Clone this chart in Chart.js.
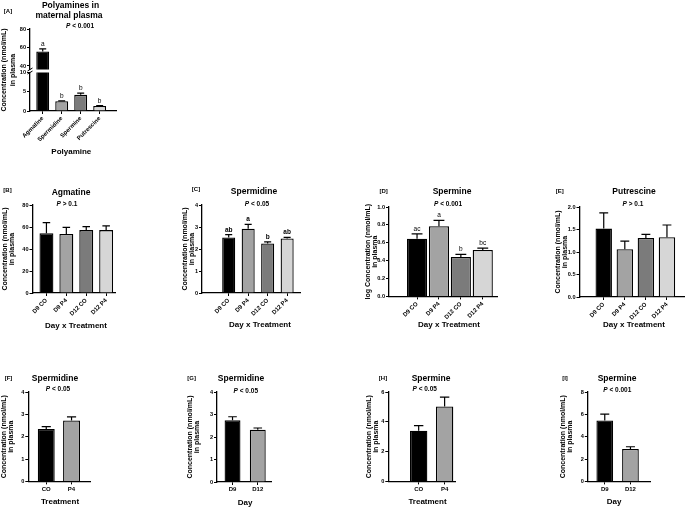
<!DOCTYPE html>
<html>
<head>
<meta charset="utf-8">
<title>Polyamines in maternal plasma</title>
<script src="https://cdn.jsdelivr.net/npm/chart.js@4.4.1/dist/chart.umd.min.js"></script>
<style>
  html, body { margin: 0; padding: 0; background: #fff; }
  body { position: relative; width: 685px; height: 508px; overflow: hidden; font-family: Arial, "Liberation Sans", sans-serif; color: #000; }
  canvas { position: absolute; }
  .txt { position: absolute; white-space: nowrap; font-weight: bold; transform: translate(-50%, -50%); line-height: 1; filter: grayscale(100%); }
  .tit { font-size: 8.5px; }
  .pv { font-size: 6.5px; }
  .lbl { font-size: 6px; }
  .xt { font-size: 8px; }
</style>
</head>
<body>
<script>
// [A] polyamines in maternal plasma
const polyamines = ['Agmatine', 'Spermidine', 'Spermine', 'Putrescine'];
const polyMean = [55.6, 2.53, 4.2, 1.3];
const polySem = [2.9, 0.09, 0.42, 0.08];
const polyLetters = ['a', 'b', 'b', 'b'];

// [B]-[E] day x treatment
const dayTreatment = ['D9 CO', 'D9 P4', 'D12 CO', 'D12 P4'];
const agmatineMean = [54.3, 53.6, 57.2, 57.2];
const agmatineSem = [9.6, 6.1, 3.2, 3.8];
const spermidineMean = [2.52, 2.92, 2.25, 2.48];
const spermidineSem = [0.13, 0.2, 0.07, 0.05];
const spermidineLetters = ['ab', 'a', 'b', 'ab'];
const spermineLogMean = [0.645, 0.785, 0.44, 0.52];
const spermineLogSem = [0.055, 0.065, 0.03, 0.02];
const spermineLetters = ['ac', 'a', 'b', 'bc'];
const putrescineMean = [1.52, 1.06, 1.31, 1.33];
const putrescineSem = [0.35, 0.18, 0.08, 0.27];

// [F]-[I] main effects
const treatment = ['CO', 'P4'];
const day = ['D9', 'D12'];
const spermidineTrtMean = [2.35, 2.73];
const spermidineTrtSem = [0.1, 0.16];
const spermidineDayMean = [2.74, 2.32];
const spermidineDaySem = [0.16, 0.08];
const spermineTrtMean = [3.4, 5.03];
const spermineTrtSem = [0.34, 0.63];
const spermineDayMean = [5.46, 2.9];
const spermineDaySem = [0.56, 0.2];

const fourColors = ['#000000', '#a3a3a3', '#7b7b7b', '#d6d6d6'];
const twoColors = ['#000000', '#a3a3a3'];
const concTitle = ['Concentration (nmol/mL)', 'in plasma'];
const logTitle = ['log Concentration (nmol/mL)', 'in plasma'];

Chart.defaults.font.family = 'Arial, "Liberation Sans", sans-serif';
Chart.defaults.font.weight = 'bold';
Chart.defaults.color = '#000';

// error bar (upper SEM only) + letters, like Prism
const errorBars = {
  id: 'errorBars',
  afterDatasetsDraw(chart) {
    const ds = chart.data.datasets[0];
    const meta = chart.getDatasetMeta(0);
    const y = chart.scales.y;
    const ctx = chart.ctx;
    ctx.save();
    ctx.strokeStyle = '#000';
    ctx.fillStyle = '#000';
    ctx.lineWidth = 1.2;
    ctx.textAlign = 'center';
    ctx.textBaseline = 'bottom';
    ctx.font = ds.letterFont || 'normal 6.5px Arial';
    meta.data.forEach((bar, i) => {
      const top = ds.data[i].y + ds.sem[i];
      if (top > y.max || top < y.min) return;
      const yTop = y.getPixelForValue(top);
      const half = bar.width * 0.27;
      ctx.beginPath();
      ctx.moveTo(bar.x, bar.y);
      ctx.lineTo(bar.x, yTop);
      ctx.moveTo(bar.x - half, yTop);
      ctx.lineTo(bar.x + half, yTop);
      ctx.stroke();
      if (ds.letters) ctx.fillText(ds.letters[i], bar.x, yTop - 1.5);
    });
    ctx.restore();
  }
};

// little slash where the y axis is broken (panel A)
function breakMark(edge) {
  return {
    id: 'breakMark',
    afterDraw(chart) {
      const a = chart.chartArea;
      const ctx = chart.ctx;
      const y = edge === 'top' ? a.top : a.bottom;
      ctx.save();
      ctx.strokeStyle = '#000';
      ctx.lineWidth = 1;
      ctx.beginPath();
      ctx.moveTo(a.left - 2.5, y + 1.5);
      ctx.lineTo(a.left + 2.5, y - 1.5);
      ctx.stroke();
      ctx.restore();
    }
  };
}

// y title of panel A, centred on the whole broken axis
function brokenAxisTitle(text, axisTop) {
  return {
    id: 'brokenAxisTitle',
    afterDraw(chart) {
      const ctx = chart.ctx;
      const yMid = (axisTop + chart.chartArea.bottom) / 2;
      ctx.save();
      ctx.font = 'bold 7px Arial, "Liberation Sans", sans-serif';
      ctx.fillStyle = '#000';
      ctx.textAlign = 'center';
      ctx.textBaseline = 'middle';
      ctx.translate(4.5, yMid);
      ctx.rotate(-Math.PI / 2);
      text.forEach((line, i) => ctx.fillText(line, 0, i * 8.2));
      ctx.restore();
    }
  };
}

const panels = [
  { labels: polyamines, values: polyMean, sem: polySem, letters: polyLetters, colors: fourColors,
    area: [30, 29, 116, 69.5], boxLeft: 16, xh: 0, xRange: [-0.67, 3.86], yRange: [36.2, 80], step: 20,
    barPct: 0.68, rot: 45, clip: 0, brk: 'bottom' },
  { labels: polyamines, values: polyMean, sem: polySem, letters: polyLetters, colors: fourColors,
    area: [30, 72.5, 116, 111], boxLeft: 0, canvasTop: 20, xh: 34, xRange: [-0.67, 3.86], yRange: [0, 10], step: 5,
    barPct: 0.68, rot: 45, clip: 0, brk: 'top', sideTitle: 29 },
  { labels: dayTreatment, values: agmatineMean, sem: agmatineSem, colors: fourColors, yTitle: concTitle,
    area: [32, 205, 115, 293], boxLeft: 0.5, xh: 30, xRange: [-0.70, 3.47], yRange: [0, 80], step: 20,
    barPct: 0.70, rot: 45 },
  { labels: dayTreatment, values: spermidineMean, sem: spermidineSem, letters: spermidineLetters,
    letterFont: 'bold 6.5px Arial', colors: fourColors, yTitle: concTitle,
    area: [202, 205, 300, 293], boxLeft: 181, xh: 30, xRange: [-1.37, 3.66], yRange: [0, 4], step: 1,
    barPct: 0.67, rot: 45 },
  { labels: dayTreatment, values: spermineLogMean, sem: spermineLogSem, letters: spermineLetters,
    colors: fourColors, yTitle: logTitle, dec: 1,
    area: [389, 207.3, 497, 296.7], boxLeft: 364, xh: 30, xRange: [-1.28, 3.65], yRange: [0, 1], step: 0.2,
    barPct: 0.92, rot: 45 },
  { labels: dayTreatment, values: putrescineMean, sem: putrescineSem, colors: fourColors, yTitle: concTitle, dec: 1,
    area: [579, 206.7, 685, 296.7], boxLeft: 553.5, xh: 30, xRange: [-1.15, 3.88], yRange: [0, 2], step: 0.5,
    barPct: 0.78, rot: 45 },
  { labels: treatment, values: spermidineTrtMean, sem: spermidineTrtSem, colors: twoColors, yTitle: concTitle,
    area: [28.3, 392.3, 90, 481.7], boxLeft: 0, xh: 14, xRange: [-0.71, 1.73], yRange: [0, 4], step: 1,
    barPct: 0.67, rot: 0 },
  { labels: day, values: spermidineDayMean, sem: spermidineDaySem, colors: twoColors, yTitle: concTitle,
    area: [217.3, 392.3, 271.7, 482.3], boxLeft: 186.3, xh: 14, xRange: [-0.615, 1.54], yRange: [0, 4], step: 1,
    barPct: 0.63, rot: 0 },
  { labels: treatment, values: spermineTrtMean, sem: spermineTrtSem, colors: twoColors, yTitle: concTitle,
    area: [388.3, 392.3, 455, 481.7], boxLeft: 365, xh: 14, xRange: [-1.17, 1.4], yRange: [0, 6], step: 2,
    barPct: 0.67, rot: 0 },
  { labels: day, values: spermineDayMean, sem: spermineDaySem, colors: twoColors, yTitle: concTitle,
    area: [587.3, 392.3, 650, 481.7], boxLeft: 558.5, xh: 14, xRange: [-0.66, 1.78], yRange: [0, 8], step: 2,
    barPct: 0.65, rot: 0 }
];

const texts = [
  ['[A]', 8, 10.5, 'lbl'], ['Polyamines in', 70.5, 4.8, 'tit'], ['maternal plasma', 69, 14.5, 'tit'],
  ['<i>P</i> &lt; 0.001', 80, 25.5, 'pv'], ['Polyamine', 71.3, 152.3, 'xt'],
  ['[B]', 7.5, 189.5, 'lbl'], ['Agmatine', 71, 192, 'tit'], ['<i>P</i> &gt; 0.1', 67, 204, 'pv'],
  ['Day x Treatment', 76, 325.5, 'xt'],
  ['[C]', 196, 189.3, 'lbl'], ['Spermidine', 254, 191, 'tit'], ['<i>P</i> &lt; 0.05', 257, 203.5, 'pv'],
  ['Day x Treatment', 260, 324.5, 'xt'],
  ['[D]', 383.7, 190.5, 'lbl'], ['Spermine', 452, 191, 'tit'], ['<i>P</i> &lt; 0.001', 448, 204.3, 'pv'],
  ['Day x Treatment', 449, 324.5, 'xt'],
  ['[E]', 559.7, 190.5, 'lbl'], ['Putrescine', 634, 191, 'tit'], ['<i>P</i> &gt; 0.1', 633, 203.5, 'pv'],
  ['Day x Treatment', 634, 324.5, 'xt'],
  ['[F]', 8.5, 377.7, 'lbl'], ['Spermidine', 55, 377.7, 'tit'], ['<i>P</i> &lt; 0.05', 58, 389.3, 'pv'],
  ['Treatment', 60, 502, 'xt'],
  ['[G]', 191.7, 378, 'lbl'], ['Spermidine', 241, 377.7, 'tit'], ['<i>P</i> &lt; 0.05', 245.8, 390.5, 'pv'],
  ['Day', 245, 502.5, 'xt'],
  ['[H]', 383, 377.7, 'lbl'], ['Spermine', 431, 377.7, 'tit'], ['<i>P</i> &lt; 0.05', 424.7, 389.3, 'pv'],
  ['Treatment', 427.5, 501.7, 'xt'],
  ['[I]', 565, 377.7, 'lbl'], ['Spermine', 617, 377.7, 'tit'], ['<i>P</i> &lt; 0.001', 617.3, 390, 'pv'],
  ['Day', 614, 501.7, 'xt']
];

function addText(html, x, y, cls) {
  const d = document.createElement('div');
  d.className = 'txt ' + cls;
  d.innerHTML = html;
  d.style.left = x + 'px';
  d.style.top = y + 'px';
  document.body.appendChild(d);
}

function drawPanel(p) {
  const [L, T, R, B] = p.area;
  const left = p.boxLeft;
  const top = p.canvasTop !== undefined ? p.canvasTop : T - 8;
  const right = Math.min(685, R + 8);
  const bottom = B + p.xh + 5;
  const cv = document.createElement('canvas');
  cv.width = Math.round(right - left);
  cv.height = Math.round(bottom - top);
  cv.style.left = left + 'px';
  cv.style.top = top + 'px';
  document.body.appendChild(cv);

  const axisGrid = { drawOnChartArea: false, offset: false, color: '#000', tickLength: 3, lineWidth: 1 };
  const axisBorder = { color: '#000', width: 1.3 };

  const extra = [errorBars];
  if (p.brk) extra.push(breakMark(p.brk));
  if (p.sideTitle !== undefined) extra.push(brokenAxisTitle(concTitle, p.sideTitle - top));

  new Chart(cv, {
    type: 'bar',
    data: {
      datasets: [{
        data: p.values.map((v, i) => ({ x: i, y: v })),
        sem: p.sem,
        letters: p.letters || null,
        letterFont: p.letterFont,
        backgroundColor: p.colors,
        borderColor: '#000',
        borderWidth: 1.3,
        barPercentage: p.barPct,
        categoryPercentage: 1,
        clip: p.clip === undefined ? false : p.clip
      }]
    },
    options: {
      responsive: false,
      animation: false,
      events: [],
      layout: { padding: { left: 0, top: T - top, right: cv.width - (R - left), bottom: cv.height - (B - top) - p.xh } },
      plugins: { legend: { display: false }, tooltip: { enabled: false } },
      scales: {
        x: {
          type: 'linear',
          offset: false,
          display: p.xh > 0,
          min: p.xRange[0],
          max: p.xRange[1],
          grid: axisGrid,
          border: axisBorder,
          ticks: {
            autoSkip: false, padding: 1, font: { size: 6 },
            minRotation: p.rot, maxRotation: p.rot,
            callback: v => p.labels[v]
          },
          afterBuildTicks: s => { s.ticks = p.labels.map((_, i) => ({ value: i })); },
          afterFit: s => { s.height = p.xh; }
        },
        y: {
          min: p.yRange[0],
          max: p.yRange[1],
          grid: axisGrid,
          border: axisBorder,
          ticks: {
            stepSize: p.step, includeBounds: false, padding: 1, font: { size: 5.6 },
            callback: v => p.dec ? v.toFixed(p.dec) : v
          },
          title: p.yTitle
            ? { display: true, text: p.yTitle, padding: 0, font: { size: 7, lineHeight: 1.1 } }
            : { display: false },
          afterFit: s => { s.width = L - left; }
        }
      }
    },
    plugins: extra
  });
}

panels.forEach(drawPanel);
texts.forEach(t => addText(t[0], t[1], t[2], t[3]));
</script>
</body>
</html>
